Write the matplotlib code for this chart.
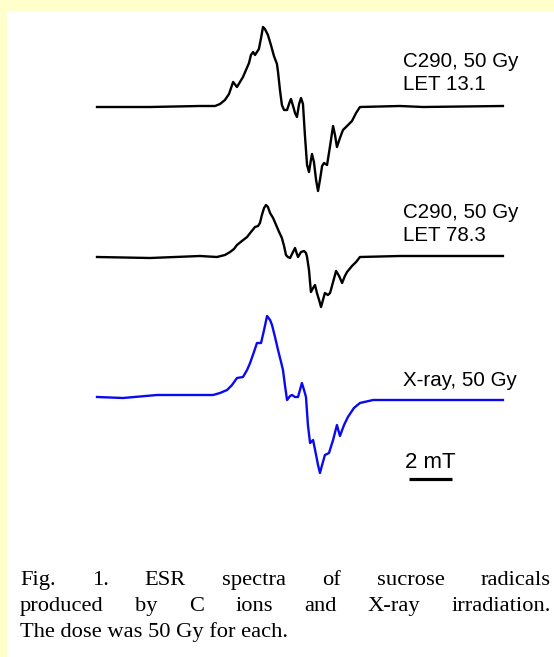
import matplotlib
matplotlib.use("Agg")
import matplotlib.pyplot as plt
from matplotlib.patches import Rectangle

# ESR spectra: field (mT from scan start), signal (a.u.)
field_let13 = [0.00, 2.47, 4.79, 5.49, 5.72, 5.95, 6.14, 6.33, 6.51, 6.65, 6.79, 6.93,
               7.07, 7.16, 7.26, 7.35, 7.44, 7.53, 7.63, 7.72, 7.81, 7.95, 8.09, 8.23,
               8.37, 8.42, 8.51, 8.60, 8.70, 8.84, 8.93, 9.02, 9.12, 9.21, 9.30, 9.40,
               9.49, 9.58, 9.67, 9.77, 9.86, 9.95, 10.00, 10.09, 10.19, 10.28, 10.37,
               10.47, 10.56, 10.70, 10.84, 10.98, 11.07, 11.16, 11.30, 11.44, 11.63,
               11.86, 12.05, 12.23, 14.09, 15.16, 18.88]
sig_let13 = [0, 0, 1, 1, 3, 7, 13, 25, 20, 25, 30, 37,
             44, 52, 55, 52, 55, 58, 69, 80, 78, 72, 62, 51,
             43, 35, 17, 2, -3, -3, 3, 8, 1, -6, -10, 3,
             9, 3, -28, -58, -65, -53, -47, -55, -73, -84, -73,
             -59, -56, -58, -39, -19, -28, -40, -31, -23, -19,
             -14, -6, 0, 1, 0, 1]

field_let78 = [0.00, 2.47, 4.79, 5.58, 5.95, 6.19, 6.37, 6.51, 6.74, 6.98, 7.16, 7.35,
               7.49, 7.58, 7.67, 7.77, 7.86, 7.95, 8.05, 8.19, 8.33, 8.47, 8.60, 8.70,
               8.79, 8.88, 8.98, 9.07, 9.21, 9.30, 9.35, 9.49, 9.63, 9.72, 9.77, 9.86,
               9.95, 10.05, 10.14, 10.23, 10.33, 10.42, 10.51, 10.60, 10.74, 10.84,
               10.98, 11.12, 11.26, 11.40, 11.53, 11.63, 11.86, 12.05, 12.23, 14.09, 18.88]
sig_let78 = [0, -1, 1, 0, 2, 5, 8, 12, 16, 20, 25, 30,
             31, 34, 42, 49, 52, 50, 44, 39, 32, 25, 19, 11,
             2, 0, -1, 3, 9, 3, 0, 5, 6, 4, 0, -13,
             -35, -31, -28, -36, -43, -50, -43, -36, -38, -36,
             -25, -14, -19, -26, -19, -15, -9, -5, 0, 1, 1]

field_xray = [0.00, 1.21, 2.79, 4.33, 5.40, 5.72, 6.05, 6.28, 6.51, 6.79, 6.98, 7.12,
              7.30, 7.44, 7.63, 7.77, 7.91, 8.05, 8.14, 8.28, 8.42, 8.56, 8.65, 8.74,
              8.84, 8.98, 9.07, 9.21, 9.35, 9.44, 9.53, 9.63, 9.72, 9.81, 9.91, 10.05,
              10.19, 10.28, 10.37, 10.47, 10.60, 10.79, 10.98, 11.16, 11.30, 11.49,
              11.67, 11.95, 12.23, 12.84, 15.16, 18.88]
sig_xray = [1, 0, 3, 3, 3, 5, 8, 13, 20, 21, 28, 35,
            46, 55, 55, 68, 82, 78, 73, 61, 48, 36, 28, 13,
            -2, 2, 3, 1, 1, 8, 15, 8, 1, -27, -45, -42,
            -57, -67, -75, -67, -57, -55, -42, -27, -38, -27,
            -19, -10, -5, -2, -2, -2]

spec_colors = ["black", "black", "#0a0af0"]
spec_labels = [["C290, 50 Gy", "LET 13.1"], ["C290, 50 Gy", "LET 78.3"], ["X-ray, 50 Gy"]]
scale_bar_mT = 2
caption = ["Fig. 1. ESR spectra of sucrose radicals",
           "produced by C ions and X-ray irradiation.",
           "The dose was 50 Gy for each."]

W, H = 554, 657
px_per_mT = 21.5
x0_px = 97
baselines = [107, 257, 398]


def fpos(x, y):
    return x / W, 1 - y / H


fig = plt.figure(figsize=(W / 100, H / 100), dpi=100)
fig.patch.set_facecolor("#ffffcc")
fig.patches.append(Rectangle((7 / W, 0), 1, 1 - 11 / H, transform=fig.transFigure,
                             facecolor="white", edgecolor="none", zorder=-5))

ax = fig.add_axes([0, 0, 1, 1], zorder=2)
ax.set_xlim(-x0_px / px_per_mT, (W - x0_px) / px_per_mT)
ax.set_ylim(-H, 0)
ax.axis("off")
ax.patch.set_alpha(0)

spectra = [(field_let13, sig_let13), (field_let78, sig_let78), (field_xray, sig_xray)]
for (fx, sy), base, col in zip(spectra, baselines, spec_colors):
    ax.plot(fx, [s - base for s in sy], color=col, lw=1.7, solid_joinstyle="round")

label_font = dict(family=["Liberation Sans", "DejaVu Sans"], size=14.8)
label_tops = [[52, 75], [203, 226], [371]]
for lines, tops in zip(spec_labels, label_tops):
    for txt, t in zip(lines, tops):
        fig.text(*fpos(403, t), txt, va="top", ha="left", **label_font)

# 2 mT scale bar
bar_x = (409 - x0_px) / px_per_mT
ax.plot([bar_x, bar_x + scale_bar_mT], [-479, -479], color="black", lw=2.3,
        solid_capstyle="butt")
fig.text(*fpos(430, 468), f"{scale_bar_mT} mT", ha="center", va="baseline",
         family=["Liberation Sans", "DejaVu Sans"], size=16)

# justified caption
cap_font = dict(family=["Liberation Serif", "DejaVu Serif"], size=16.2)
renderer = fig.canvas.get_renderer()
left, right = 20, 551
cap_baselines = [585, 611, 637]
for i, (line, yb) in enumerate(zip(caption, cap_baselines)):
    words = line.split(" ")
    if i == len(caption) - 1:
        fig.text(*fpos(left, yb), line, va="baseline", ha="left", **cap_font)
        continue
    items = [fig.text(0, 0, w, va="baseline", ha="left", **cap_font) for w in words]
    widths = [t.get_window_extent(renderer).width for t in items]
    gap = (right - left - sum(widths)) / (len(words) - 1)
    x = left
    for t, w in zip(items, widths):
        t.set_position(fpos(x, yb))
        x += w + gap

fig.savefig("out.png", dpi=100, facecolor=fig.get_facecolor())
